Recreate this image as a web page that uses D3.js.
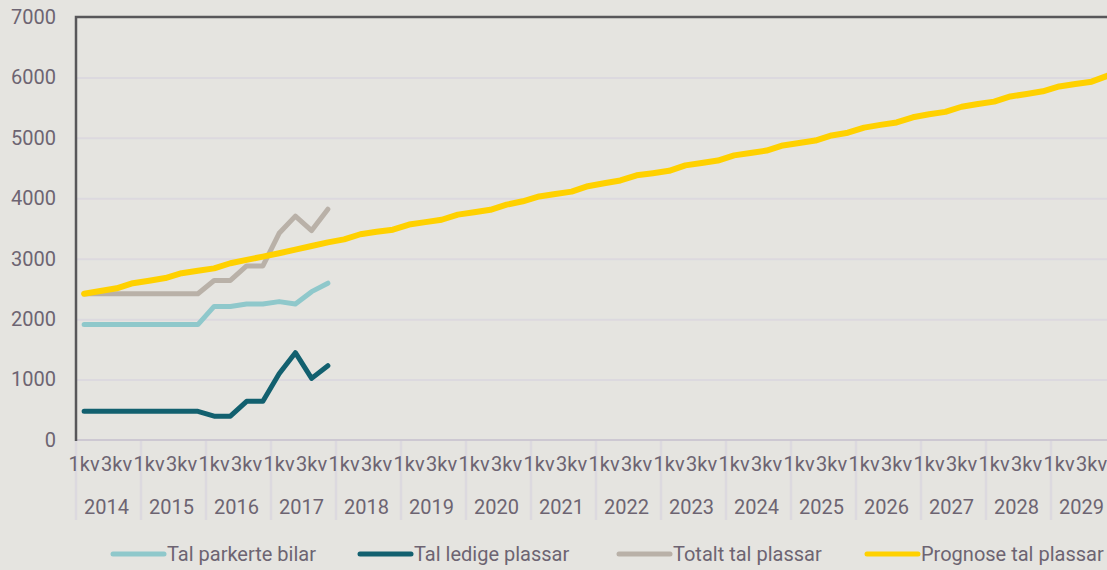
<!DOCTYPE html>
<html>
<head>
<meta charset="utf-8">
<script src="https://cdn.jsdelivr.net/npm/d3@7"></script>
<style>
    body { margin: 0; background: #e5e4e0; }
    #chart-container text { font-family: Roboto, "Noto Sans", sans-serif; fill: #6d6472; }
</style>
</head>
<body>
<div id="chart-container"></div>
<script>
var years = [2014, 2015, 2016, 2017, 2018, 2019, 2020, 2021, 2022, 2023, 2024, 2025, 2026, 2027, 2028, 2029];
var quarterNames = ["1kv", "2kv", "3kv", "4kv"];
var yTicks = [0, 1000, 2000, 3000, 4000, 5000, 6000, 7000];

// 2014 1kv - 2017 4kv
var parkerte = [1910, 1910, 1910, 1910, 1910, 1910, 1910, 1910, 2210, 2210, 2250, 2250, 2290, 2250, 2455, 2595];
var ledige = [475, 475, 475, 475, 475, 475, 475, 475, 395, 395, 640, 640, 1095, 1445, 1020, 1230];
var totalt = [2420, 2420, 2420, 2420, 2420, 2420, 2420, 2420, 2640, 2640, 2880, 2880, 3420, 3705, 3465, 3820];

// 2014 1kv - 2029 4kv
var prognose = [2420, 2465, 2510, 2595, 2635, 2680, 2760, 2800, 2840, 2925, 2980, 3035,
    3090, 3150, 3210, 3270, 3320, 3405, 3445, 3480, 3565, 3605, 3645, 3730,
    3770, 3810, 3895, 3950, 4030, 4070, 4110, 4200, 4250, 4295, 4380, 4415,
    4455, 4545, 4585, 4625, 4710, 4750, 4790, 4875, 4915, 4955, 5040, 5085,
    5170, 5215, 5255, 5340, 5390, 5430, 5515, 5560, 5600, 5685, 5725, 5770,
    5850, 5890, 5930, 6030];

var seriesNames = ["Tal parkerte bilar", "Tal ledige plassar", "Totalt tal plassar", "Prognose tal plassar"];
var seriesColors = ["#8fc8cb", "#12606f", "#b9b1a8", "#ffd100"];

var settings = {
    w: 1107,
    h: 570,
    left: 76,
    top: 17,
    bottom: 440,
    yearW: 65,
    sepBottom: 520
};

var quarters = [];
years.forEach(function(y) {
    quarterNames.forEach(function(q) { quarters.push(y + "-" + q); });
});

var svg = d3.select("#chart-container").append("svg")
    .attr("width", settings.w).attr("height", settings.h);

var xScale = d3.scaleBand()
    .domain(quarters)
    .range([settings.left, settings.left + years.length * settings.yearW]);

var yScale = d3.scaleLinear()
    .domain([0, 7000])
    .range([settings.bottom, settings.top]);

// gridlines
svg.append("g")
    .attr("transform", "translate(" + settings.left + ",0)")
    .call(d3.axisLeft(yScale).tickValues(yTicks.slice(1, -1)).tickSize(-(settings.w - settings.left)).tickFormat(""))
    .call(function(g) { g.select(".domain").remove(); })
    .selectAll("line")
    .attr("stroke", "#dcd9df")
    .attr("stroke-width", 2);

// y labels
svg.append("g")
    .attr("transform", "translate(56,0)")
    .call(d3.axisLeft(yScale).tickValues(yTicks).tickSize(0).tickPadding(0).tickFormat(d3.format("d")))
    .call(function(g) { g.select(".domain").remove(); })
    .selectAll("text")
    .style("font-size", "20px");

// x baseline
svg.append("line")
    .attr("x1", settings.left).attr("x2", settings.w)
    .attr("y1", yScale(0)).attr("y2", yScale(0))
    .attr("stroke", "#cdc8d2").attr("stroke-width", 2);

// year separators
svg.append("g").selectAll("line")
    .data(years)
    .enter()
    .append("line")
    .attr("x1", function(d) { return xScale(d + "-1kv"); })
    .attr("x2", function(d) { return xScale(d + "-1kv"); })
    .attr("y1", settings.bottom + 1)
    .attr("y2", settings.sepBottom)
    .attr("stroke", "#dcd9df")
    .attr("stroke-width", 2.5);

// quarter labels
svg.append("g")
    .attr("transform", "translate(0," + settings.bottom + ")")
    .call(d3.axisBottom(xScale)
        .tickValues(quarters.filter(function(q) { return /-(1|3)kv/.test(q); }))
        .tickSize(0).tickPadding(17)
        .tickFormat(function(d) { return d.split("-")[1]; }))
    .call(function(g) { g.select(".domain").remove(); })
    .selectAll("text")
    .style("font-size", "20px");

// year labels
svg.append("g").selectAll("text")
    .data(years)
    .enter()
    .append("text")
    .attr("x", function(d) { return xScale(d + "-1kv") + settings.yearW / 2 - 2; })
    .attr("y", 514)
    .attr("text-anchor", "middle")
    .style("font-size", "20px")
    .text(function(d) { return d; });

// frame: left and top
svg.append("path")
    .attr("d", "M" + settings.left + "," + (settings.bottom + 1) + "V" + settings.top + "H" + settings.w)
    .attr("fill", "none")
    .attr("stroke", "#58575a")
    .attr("stroke-width", 2.5);

var line = d3.line()
    .x(function(d, i) { return xScale(quarters[i]) + xScale.bandwidth() / 2; })
    .y(function(d) { return yScale(d); });

// prognose last so it sits on top
var plot = svg.append("g");
[parkerte, ledige, totalt, prognose].forEach(function(s, i) {
    plot.append("path")
        .datum(s)
        .attr("d", line)
        .attr("fill", "none")
        .attr("stroke", seriesColors[i])
        .attr("stroke-width", i == 3 ? 6 : 5)
        .attr("stroke-linecap", "round")
        .attr("stroke-linejoin", "round");
});

// legend
var legendX = [111, 358, 617, 865];
var legend = svg.append("g").selectAll("g")
    .data(seriesNames)
    .enter()
    .append("g")
    .attr("transform", function(d, i) { return "translate(" + legendX[i] + ",554)"; });

legend.append("line")
    .attr("x1", 2).attr("x2", 53)
    .attr("stroke", function(d, i) { return seriesColors[i]; })
    .attr("stroke-width", 5)
    .attr("stroke-linecap", "round");

legend.append("text")
    .attr("x", 56)
    .attr("y", 7)
    .style("font-size", "20px")
    .text(function(d) { return d; });
</script>
</body>
</html>
